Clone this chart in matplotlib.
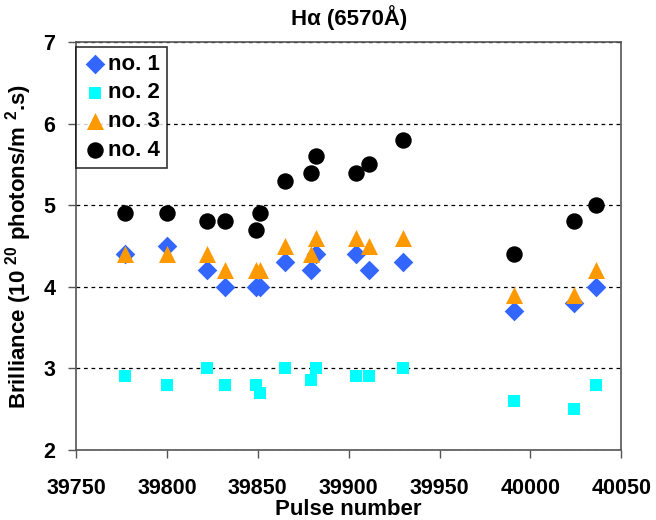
import matplotlib
matplotlib.use("Agg")
import matplotlib.pyplot as plt

plt.rcParams['font.family'] = ['Liberation Sans', 'DejaVu Sans']
plt.rcParams['font.weight'] = 'bold'
plt.rcParams['mathtext.fontset'] = 'custom'
plt.rcParams['mathtext.rm'] = 'Liberation Sans:bold'
plt.rcParams['mathtext.it'] = 'Liberation Sans:bold'
plt.rcParams['mathtext.bf'] = 'Liberation Sans:bold'

pulse1 = [39777, 39800, 39822, 39832, 39849, 39851, 39865, 39879, 39882, 39904, 39911, 39930, 39991, 40024, 40036]
no1 = [4.4, 4.5, 4.2, 4.0, 4.0, 4.0, 4.3, 4.2, 4.4, 4.4, 4.2, 4.3, 3.7, 3.8, 4.0]
no2 = [2.9, 2.8, 3.0, 2.8, 2.8, 2.7, 3.0, 2.85, 3.0, 2.9, 2.9, 3.0, 2.6, 2.5, 2.8]
no3 = [4.4, 4.4, 4.4, 4.2, 4.2, 4.2, 4.5, 4.4, 4.6, 4.6, 4.5, 4.6, 3.9, 3.9, 4.2]
no4 = [4.9, 4.9, 4.8, 4.8, 4.7, 4.9, 5.3, 5.4, 5.6, 5.4, 5.5, 5.8, 4.4, 4.8, 5.0]
series_names = ["no. 1", "no. 2", "no. 3", "no. 4"]

fig = plt.figure(figsize=(6.56, 5.2), dpi=100)
ax = fig.add_axes([0.116, 0.135, 0.831, 0.784])

ax.scatter(pulse1, no1, marker='D', s=100, color='#3366FF', label=series_names[0], zorder=3, linewidths=0)
ax.scatter(pulse1, no2, marker='s', s=70, color='#00FFFF', label=series_names[1], zorder=3, linewidths=0)
ax.scatter(pulse1, no3, marker='^', s=150, color='#FF9900', label=series_names[2], zorder=3, linewidths=0)
ax.scatter(pulse1, no4, marker='o', s=140, color='black', label=series_names[3], zorder=3, linewidths=0)

ax.set_xlim(39750, 40050)
ax.set_ylim(2, 7)
ax.set_xticks(range(39750, 40051, 50))
ax.set_yticks(range(2, 8))
ax.yaxis.grid(True, linestyle=(0, (3, 3)), color='black', linewidth=0.9)
ax.set_axisbelow(True)
for s in ax.spines.values():
    s.set_color('#555555')
    s.set_linewidth(1.2)
ax.tick_params(axis='both', labelsize=15.5, length=6, width=1, color='#555555')
ax.tick_params(axis='x', pad=14)
ax.tick_params(axis='y', pad=9)

ax.set_title("H\u03b1 (6570\u00c5)", fontsize=16, fontweight='bold', pad=12)
ax.set_xlabel("Pulse number", fontsize=16, fontweight='bold', labelpad=0)
ax.set_ylabel("Brilliance (10 $^{20}$ photons/m $^{2}$.s)", fontsize=16, fontweight='bold', labelpad=7)

leg = ax.legend(loc='upper left', bbox_to_anchor=(0.0, 0.988), fontsize=16, frameon=True,
                fancybox=False, edgecolor='black', handletextpad=0.05, borderpad=0.3,
                labelspacing=0.35, handlelength=1.1, borderaxespad=0.0)
leg.get_frame().set_linewidth(1.2)

fig.savefig("out.png", dpi=100)
